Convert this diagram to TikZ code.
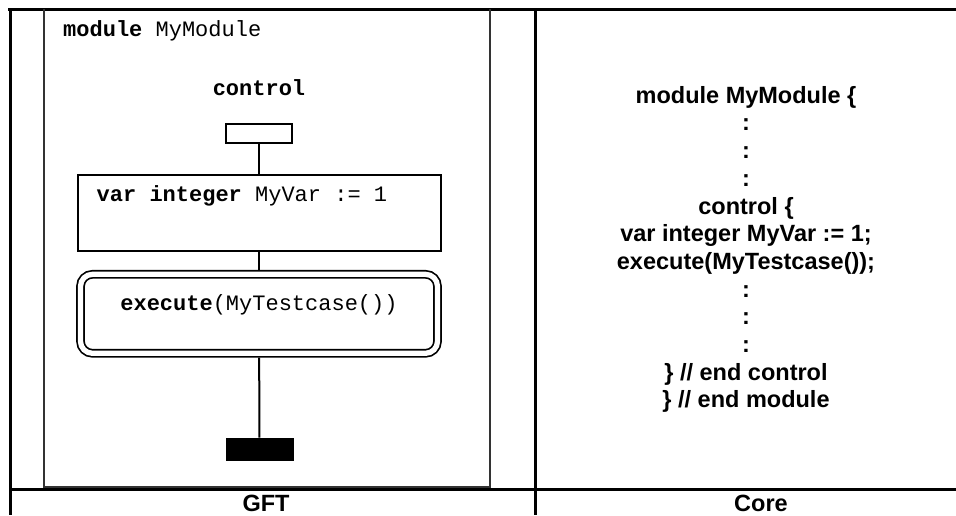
\documentclass[tikz,border=0pt]{standalone}
\usepackage{fontspec}
\setmainfont{Liberation Sans}
\setmonofont{Liberation Mono}
\usetikzlibrary{positioning}
\tikzset{
	tabline/.style={line width=3pt, black},
	frameline/.style={line width=2pt, black!80},
	gfttext/.style={font=\ttfamily\fontsize{22}{26}\selectfont, inner sep=0pt},
	coretext/.style={font=\bfseries\fontsize{23.5}{27.7}\selectfont, align=center, inner sep=0pt},
	startbox/.style={rectangle, draw, line width=2pt, minimum width=66pt, minimum height=19pt, inner sep=0pt},
	stopbox/.style={rectangle, draw, fill=black, line width=1pt, minimum width=67pt, minimum height=22pt, inner sep=0pt},
	taskbox/.style={rectangle, draw, line width=2pt, minimum width=363pt, minimum height=76pt, inner sep=0pt},
	execbox/.style={rectangle, rounded corners=12pt, draw, line width=1.7pt, double, double distance=5.3pt,
		minimum width=357pt, minimum height=79pt, inner sep=0pt, outer sep=4.3pt},
	flowline/.style={line width=2pt}
}
\begin{document}
\begin{tikzpicture}[x=1pt,y=-1pt]
	\useasboundingbox (0,0) rectangle (956,515);
	% table
	\draw[tabline] (8,9) -- (956,9);
	\draw[tabline] (10,9) -- (10,515);
	\draw[tabline] (535,9) -- (535,515);
	\draw[tabline] (10,489) -- (956,489);
	\draw[frameline] (44,9) -- (44,487) -- (490,487) -- (490,9);
	% GFT side
	\node[gfttext, anchor=west] (modhead) at (63,31) {\textbf{module} MyModule};
	\node[gfttext] (ctrlhead) at (259,88) {\textbf{control}};
	\node[startbox] (start) at (259,133.5) {};
	\node[taskbox, below=30pt of start] (var) {};
	\node[gfttext, anchor=west] (vartext) at ([xshift=20pt,yshift=-22pt]var.north west) {\textbf{var integer} MyVar := 1};
	\node[execbox, below=18pt of var] (exec) {};
	\node[gfttext] (exectext) at ([yshift=9pt]exec.center) {\textbf{execute}(MyTestcase())};
	\node[stopbox] (stop) at (259.5,449) {};
	\draw[flowline] (start) -- (var);
	\draw[flowline] (var) -- (exec);
	\draw[flowline] (exec) -- (stop);
	% Core side
	\node[coretext] (code) at (746,249.5) {module MyModule \{\\:\\:\\:\\control \{\\var integer MyVar := 1;\\execute(MyTestcase());\\:\\:\\:\\\} // end control\\\} // end module};
	% column labels
	\node[coretext] (gft) at (266,503) {GFT};
	\node[coretext] (core) at (761,503) {Core};
\end{tikzpicture}
\end{document}
